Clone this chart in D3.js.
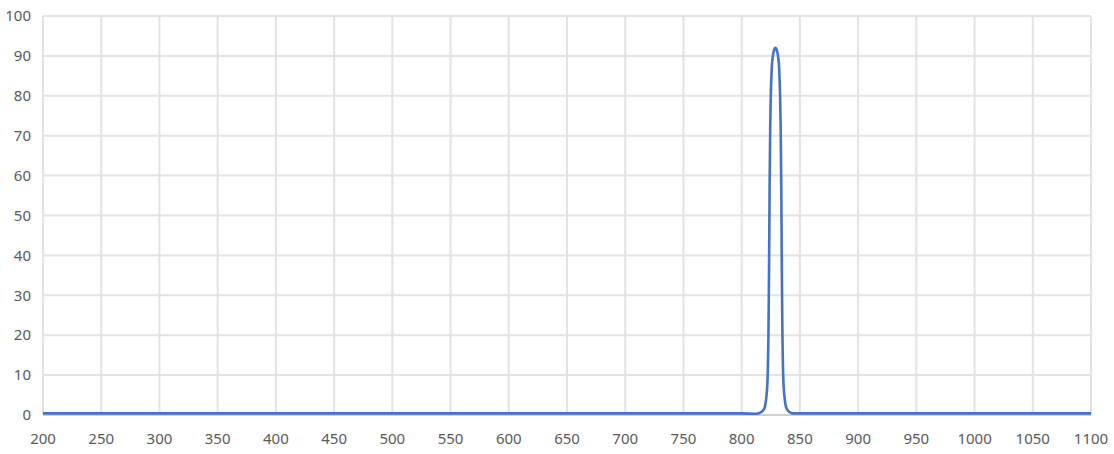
<!DOCTYPE html>
<html><head><meta charset="utf-8">
<script src="https://cdn.jsdelivr.net/npm/d3@7"></script>
<style>body{margin:0;background:#fff;}svg{display:block;}</style>
</head><body>
<svg id="c" width="1114" height="454"></svg>
<script>
const xTicks = [200,250,300,350,400,450,500,550,600,650,700,750,800,850,900,950,1000,1050,1100];
const yTicks = [0,10,20,30,40,50,60,70,80,90,100];
const wavelength = [200,400,600,800,812,814,816,818,819,820,820.5,821,821.5,822,822.5,823,823.5,824,824.5,825,825.5,826,826.5,827,827.5,828,828.5,829,829.5,830,830.5,831,831.5,832,832.5,833,833.5,834,834.5,835,835.5,836,837,838,840,842,844,850,900,1000,1100];
const transmission = [0.4,0.4,0.4,0.4,0.3,0.4,0.6,1.0,1.4,2.1,3.0,4.0,5.3,7.5,11.5,20,36,57,72,80,84.5,87.8,89.3,90.4,91.1,91.6,91.9,92,91.9,91.6,91.1,90.4,89.3,87.8,84.5,80,72,57,36,20,11.5,7.5,4.0,2.1,1.0,0.6,0.4,0.4,0.4,0.4,0.4];

const svg = d3.select("#c");
const x = d3.scaleLinear().domain([200,1100]).range([43,1091]);
const y = d3.scaleLinear().domain([0,100]).range([415,16]);

const g = svg.append("g");
g.selectAll("line.v").data(xTicks).join("line")
  .attr("x1",d=>x(d)).attr("x2",d=>x(d)).attr("y1",y(100)).attr("y2",y(0))
  .attr("stroke","#e3e3e6").attr("stroke-width",2);
g.selectAll("line.h").data(yTicks).join("line")
  .attr("x1",x(200)).attr("x2",x(1100)).attr("y1",d=>y(d)).attr("y2",d=>y(d))
  .attr("stroke",d=>d===0?"#d0d0d4":"#e3e3e6").attr("stroke-width",2);

const font = "'Noto Sans', 'DejaVu Sans', sans-serif";
svg.selectAll("text.y").data(yTicks).join("text")
  .attr("x",31).attr("y",d=>y(d)).attr("dy","0.35em")
  .attr("text-anchor","end").attr("font-family",font).attr("font-size",15)
  .attr("fill","#595959").text(d=>d);
svg.selectAll("text.x").data(xTicks).join("text")
  .attr("x",d=>x(d)).attr("y",439).attr("dy","0.35em")
  .attr("text-anchor","middle").attr("font-family",font).attr("font-size",15)
  .attr("fill","#595959").text(d=>d);

const data = wavelength.map((w,i)=>[w,transmission[i]]);
svg.append("path").datum(data)
  .attr("fill","none").attr("stroke","#4472C4").attr("stroke-width",2.6)
  .attr("stroke-linejoin","round")
  .attr("d", d3.line().x(d=>x(d[0])).y(d=>y(d[1])).curve(d3.curveMonotoneX));
</script>
</body></html>
